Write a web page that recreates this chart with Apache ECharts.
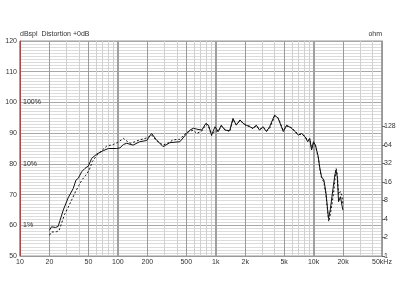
<!DOCTYPE html>
<html>
<head>
<meta charset="utf-8">
<script src="https://cdn.jsdelivr.net/npm/echarts@6/dist/echarts.min.js"></script>
<style>html,body{margin:0;padding:0;background:#fff}#c{width:400px;height:300px}</style>
</head>
<body>
<div id="c"></div>
<script>
const solidFreq = [20,21,22,23,24.5,25.6,27.7,31,35,37.3,39.4,42.6,46,50,54,61,71,80,97,105,114,123,143,167,197,221,248,290,340,430,506,546,590,640,720,794,843,907,983,1060,1140,1240,1390,1500,1620,1770,1900,2050,2220,2400,2600,2800,3050,3300,3550,4000,4350,4900,5300,5950,6440,6980,7550,8180,8700,9130,9540,9980,10450,11160,11600,12050,12750,13400,14200,14800,15400,15900,16500,16900,17450,18000,18800,19500,19900];
const solidDb = [58.4,59.5,59.8,59.3,59.6,61.5,65,68.9,72,74.7,75.3,77.4,78.5,79.3,81.8,83.2,84.3,85,85,85.2,86.3,86.7,86.1,87.2,87.6,89.9,87.8,85.6,86.9,87.2,89.9,91,91.6,91.3,91,93.2,92.6,89.4,92.1,90.5,92.6,91,90.8,94.8,92.6,94.3,93.2,92.6,92.1,91.6,92.6,91,92.1,90.5,92.1,95.9,94.8,90.5,92.6,91.6,90.5,89.4,89.9,88.8,87.2,88.3,84.5,87.2,86.1,82.3,78.5,75.8,74.7,70.4,62.2,65,69.3,72.6,76.4,78,75.8,67.7,69.3,68.8,65];
const dashFreq = [20,21,22,23.5,25,26.5,28.5,31,34,37,40,43,47,51,55,61,70,77,90,100,114,125,133,150,167,200,221,250,290,330,367,430,506,546,590,640,720,794,843,907,983,1060,1140,1240,1390,1500,1620,1770,1900,2050,2220,2400,2600,2800,3050,3300,3550,4000,4350,4900,5300,5950,6440,6980,7550,8180,8700,9130,9540,9980,10450,11160,11600,12050,12750,13400,14300,14900,15500,16000,16600,17000,17500,18000,18800,19500,19900];
const dashDb = [56.8,57.8,58.3,57.9,58.2,60.5,63.5,65.8,68.5,71,73,74.8,76.3,78,80.8,82.8,84.6,85.8,86.3,87,88.3,87.3,86.7,87.2,87.8,88.5,89.4,87.5,86.1,86.9,87.8,88,90.3,90.6,91,89.9,90.7,92.8,92.2,89.2,90.8,90.6,92.3,91.2,90.5,94.4,92.8,94,93.4,92.4,92.3,91.4,92.4,91.2,91.8,90.8,91.5,95.5,95,90.8,92.3,91.8,90.7,89.6,89.6,89,87.5,88,85,86.8,85.8,82,78.2,75.5,74,69.5,61.2,64,67.5,70.5,75.5,78.5,76.5,70,71,69.5,67];
const xTickLabels = [10,20,50,100,200,500,1000,2000,5000,10000,20000,50000];
const xMidGrid = [20,50,200,500,2000,5000,20000];
const xMinorGrid = [30,40,60,70,80,90,300,400,600,700,800,900,3000,4000,6000,7000,8000,9000,30000,40000];
const ohmTicks = [1,2,4,8,16,32,64,128];
const distLabels = {60:'1%',80:'10%',100:'100%'};

const FONT = 'Liberation Sans';
const lbl = {fontSize:7, color:'#333', fontFamily:FONT};
const toPairs = (f,d) => f.map((v,i)=>[v,d[i]]);
const ohmToDb = o => 20*Math.log10(o);

const chart = echarts.init(document.getElementById('c'), null, {renderer:'canvas'});
const gridLines = [];
xMidGrid.forEach(v=>gridLines.push({xAxis:v, lineStyle:{color:'#9a9a9a', width:1, type:'solid'}}));
xMinorGrid.forEach(v=>gridLines.push({xAxis:v, lineStyle:{color:'#d0d0d0', width:1, type:'solid'}}));

chart.setOption({
  animation:false,
  grid:{left:20,right:18,top:41,bottom:44,show:true,borderColor:'#999',borderWidth:1},
  xAxis:{
    type:'log', logBase:10, min:10, max:50000,
    axisLine:{show:true, lineStyle:{color:'#999'}},
    axisTick:{show:false},
    splitLine:{show:true, lineStyle:{color:'#a0a0a0', width:2}},
    axisLabel:Object.assign({}, lbl, {margin:3, customValues:xTickLabels, formatter:v=>{
      if (v>=49999) return '50kHz';
      if (v>=1000) return (v/1000)+'k';
      return String(v);
    }})
  },
  yAxis:[
    {
      type:'value', min:50, max:120, interval:10, position:'left',
      name:'dBspl  Distortion +0dB', nameLocation:'end', nameGap:3,
      nameTextStyle:{fontSize:7, color:'#333', fontFamily:FONT, align:'left', verticalAlign:'bottom'},
      axisLine:{show:true, lineStyle:{color:'#e03030', width:1}},
      axisTick:{show:false},
      axisLabel:Object.assign({}, lbl, {margin:3}),
      splitLine:{show:true, lineStyle:{color:'#a8a8a8', width:1}},
      minorTick:{show:false, splitNumber:10},
      minorSplitLine:{show:true, lineStyle:{color:'#dcdcdc', width:1}}
    },
    {
      type:'value', min:0, max:70, position:'right',
      name:'ohm', nameLocation:'end', nameGap:3,
      nameTextStyle:{fontSize:7, color:'#333', fontFamily:FONT, align:'right', verticalAlign:'bottom'},
      axisLine:{show:true, lineStyle:{color:'#999'}},
      axisTick:{show:true, length:3, lineStyle:{color:'#666'}, customValues:ohmTicks.map(ohmToDb)},
      axisLabel:Object.assign({}, lbl, {margin:2, customValues:ohmTicks.map(ohmToDb), formatter:v=>String(Math.round(Math.pow(10, v/20)))}),
      splitLine:{show:false}
    },
    {
      type:'value', min:50, max:120, position:'left',
      axisLine:{show:false}, axisTick:{show:false}, splitLine:{show:false},
      axisLabel:Object.assign({}, lbl, {inside:true, margin:3, customValues:[60,80,100], formatter:v=>distLabels[Math.round(v)]||''})
    }
  ],
  series:[
    {
      type:'line', data:[], silent:true,
      markLine:{silent:true, symbol:['none','none'], z:1, label:{show:false}, animation:false, data:gridLines}
    },
    {
      type:'line', name:'dashed', data:toPairs(dashFreq,dashDb), showSymbol:false, symbol:'none', z:3,
      lineStyle:{color:'#111', width:1, type:[2,2]}
    },
    {
      type:'line', name:'solid', data:toPairs(solidFreq,solidDb), showSymbol:false, symbol:'none', z:4,
      lineStyle:{color:'#111', width:1}
    }
  ]
});
</script>
</body>
</html>
